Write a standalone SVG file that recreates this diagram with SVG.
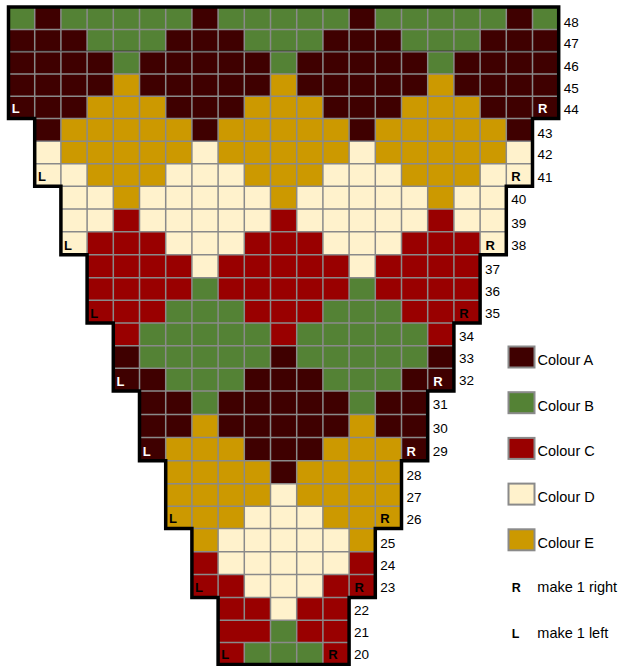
<svg xmlns="http://www.w3.org/2000/svg" width="623" height="666" viewBox="0 0 623 666">
<style>
.a{fill:#3f0000}.b{fill:#548235}.c{fill:#990000}.d{fill:#fff2cc}.e{fill:#cc9900}
.grid{fill:none;stroke:#8a8a8a;stroke-width:1.5}
.outline{fill:none;stroke:#000;stroke-width:3.5;stroke-linejoin:miter}
.num{font-family:"Liberation Sans",Arial,sans-serif;font-size:13.5px;fill:#000}
.lr{font-family:"Liberation Sans",Arial,sans-serif;font-size:13px;font-weight:bold;fill:#000}
.lrw{fill:#fff}
.leg{font-family:"Liberation Sans",Arial,sans-serif;font-size:14.5px;fill:#000}
.legk{font-family:"Liberation Sans",Arial,sans-serif;font-size:12.5px;font-weight:bold;fill:#000}
.sw{stroke:#8a8a8a;stroke-width:2}
</style>
<g id="chart">
<g id="row48"><rect class="b" x="8.5" y="7" width="550.2" height="22.4"/><rect class="a" x="34.7" y="7" width="26.2" height="22.4"/><rect class="a" x="191.9" y="7" width="26.2" height="22.4"/><rect class="a" x="349.1" y="7" width="26.2" height="22.4"/><rect class="a" x="506.3" y="7" width="26.2" height="22.4"/></g>
<g id="row47"><rect class="a" x="8.5" y="29.4" width="550.2" height="22.4"/><rect class="b" x="87.1" y="29.4" width="78.6" height="22.4"/><rect class="b" x="244.3" y="29.4" width="78.6" height="22.4"/><rect class="b" x="401.5" y="29.4" width="78.6" height="22.4"/></g>
<g id="row46"><rect class="a" x="8.5" y="51.8" width="550.2" height="22.2"/><rect class="b" x="113.3" y="51.8" width="26.2" height="22.2"/><rect class="b" x="270.5" y="51.8" width="26.2" height="22.2"/><rect class="b" x="427.7" y="51.8" width="26.2" height="22.2"/></g>
<g id="row45"><rect class="a" x="8.5" y="74" width="550.2" height="22.3"/><rect class="e" x="113.3" y="74" width="26.2" height="22.3"/><rect class="e" x="270.5" y="74" width="26.2" height="22.3"/><rect class="e" x="427.7" y="74" width="26.2" height="22.3"/></g>
<g id="row44"><rect class="a" x="8.5" y="96.3" width="550.2" height="22.3"/><rect class="e" x="87.1" y="96.3" width="78.6" height="22.3"/><rect class="e" x="244.3" y="96.3" width="78.6" height="22.3"/><rect class="e" x="401.5" y="96.3" width="78.6" height="22.3"/></g>
<g id="row43"><rect class="e" x="34.7" y="118.6" width="497.8" height="22.7"/><rect class="a" x="34.7" y="118.6" width="26.2" height="22.7"/><rect class="a" x="191.9" y="118.6" width="26.2" height="22.7"/><rect class="a" x="349.1" y="118.6" width="26.2" height="22.7"/><rect class="a" x="506.3" y="118.6" width="26.2" height="22.7"/></g>
<g id="row42"><rect class="e" x="34.7" y="141.3" width="497.8" height="22.4"/><rect class="d" x="34.7" y="141.3" width="26.2" height="22.4"/><rect class="d" x="191.9" y="141.3" width="26.2" height="22.4"/><rect class="d" x="349.1" y="141.3" width="26.2" height="22.4"/><rect class="d" x="506.3" y="141.3" width="26.2" height="22.4"/></g>
<g id="row41"><rect class="d" x="34.7" y="163.7" width="497.8" height="22.6"/><rect class="e" x="87.1" y="163.7" width="78.6" height="22.6"/><rect class="e" x="244.3" y="163.7" width="78.6" height="22.6"/><rect class="e" x="401.5" y="163.7" width="78.6" height="22.6"/></g>
<g id="row40"><rect class="d" x="60.9" y="186.3" width="445.4" height="22.7"/><rect class="e" x="113.3" y="186.3" width="26.2" height="22.7"/><rect class="e" x="270.5" y="186.3" width="26.2" height="22.7"/><rect class="e" x="427.7" y="186.3" width="26.2" height="22.7"/></g>
<g id="row39"><rect class="d" x="60.9" y="209" width="445.4" height="22.8"/><rect class="c" x="113.3" y="209" width="26.2" height="22.8"/><rect class="c" x="270.5" y="209" width="26.2" height="22.8"/><rect class="c" x="427.7" y="209" width="26.2" height="22.8"/></g>
<g id="row38"><rect class="c" x="60.9" y="231.8" width="445.4" height="23"/><rect class="d" x="60.9" y="231.8" width="26.2" height="23"/><rect class="d" x="165.7" y="231.8" width="78.6" height="23"/><rect class="d" x="322.9" y="231.8" width="78.6" height="23"/><rect class="d" x="480.1" y="231.8" width="26.2" height="23"/></g>
<g id="row37"><rect class="c" x="87.1" y="254.8" width="393" height="23"/><rect class="d" x="191.9" y="254.8" width="26.2" height="23"/><rect class="d" x="349.1" y="254.8" width="26.2" height="23"/></g>
<g id="row36"><rect class="c" x="87.1" y="277.8" width="393" height="22.5"/><rect class="b" x="191.9" y="277.8" width="26.2" height="22.5"/><rect class="b" x="349.1" y="277.8" width="26.2" height="22.5"/></g>
<g id="row35"><rect class="c" x="87.1" y="300.3" width="393" height="22.7"/><rect class="b" x="165.7" y="300.3" width="78.6" height="22.7"/><rect class="b" x="322.9" y="300.3" width="78.6" height="22.7"/></g>
<g id="row34"><rect class="b" x="113.3" y="323" width="340.6" height="22.8"/><rect class="c" x="113.3" y="323" width="26.2" height="22.8"/><rect class="c" x="270.5" y="323" width="26.2" height="22.8"/><rect class="c" x="427.7" y="323" width="26.2" height="22.8"/></g>
<g id="row33"><rect class="b" x="113.3" y="345.8" width="340.6" height="22.5"/><rect class="a" x="113.3" y="345.8" width="26.2" height="22.5"/><rect class="a" x="270.5" y="345.8" width="26.2" height="22.5"/><rect class="a" x="427.7" y="345.8" width="26.2" height="22.5"/></g>
<g id="row32"><rect class="a" x="113.3" y="368.3" width="340.6" height="22.7"/><rect class="b" x="165.7" y="368.3" width="78.6" height="22.7"/><rect class="b" x="322.9" y="368.3" width="78.6" height="22.7"/></g>
<g id="row31"><rect class="a" x="139.5" y="391" width="288.2" height="23.5"/><rect class="b" x="191.9" y="391" width="26.2" height="23.5"/><rect class="b" x="349.1" y="391" width="26.2" height="23.5"/></g>
<g id="row30"><rect class="a" x="139.5" y="414.5" width="288.2" height="23"/><rect class="e" x="191.9" y="414.5" width="26.2" height="23"/><rect class="e" x="349.1" y="414.5" width="26.2" height="23"/></g>
<g id="row29"><rect class="a" x="139.5" y="437.5" width="288.2" height="23.2"/><rect class="e" x="165.7" y="437.5" width="78.6" height="23.2"/><rect class="e" x="322.9" y="437.5" width="78.6" height="23.2"/></g>
<g id="row28"><rect class="e" x="165.7" y="460.7" width="235.8" height="23"/><rect class="a" x="270.5" y="460.7" width="26.2" height="23"/></g>
<g id="row27"><rect class="e" x="165.7" y="483.7" width="235.8" height="22.5"/><rect class="d" x="270.5" y="483.7" width="26.2" height="22.5"/></g>
<g id="row26"><rect class="e" x="165.7" y="506.2" width="235.8" height="22.3"/><rect class="d" x="244.3" y="506.2" width="78.6" height="22.3"/></g>
<g id="row25"><rect class="d" x="191.9" y="528.5" width="183.4" height="23.3"/><rect class="e" x="191.9" y="528.5" width="26.2" height="23.3"/><rect class="e" x="349.1" y="528.5" width="26.2" height="23.3"/></g>
<g id="row24"><rect class="d" x="191.9" y="551.8" width="183.4" height="22.8"/><rect class="c" x="191.9" y="551.8" width="26.2" height="22.8"/><rect class="c" x="349.1" y="551.8" width="26.2" height="22.8"/></g>
<g id="row23"><rect class="c" x="191.9" y="574.6" width="183.4" height="23"/><rect class="d" x="244.3" y="574.6" width="78.6" height="23"/></g>
<g id="row22"><rect class="c" x="218.1" y="597.6" width="131" height="22.6"/><rect class="d" x="270.5" y="597.6" width="26.2" height="22.6"/></g>
<g id="row21"><rect class="c" x="218.1" y="620.2" width="131" height="22.4"/><rect class="b" x="270.5" y="620.2" width="26.2" height="22.4"/></g>
<g id="row20"><rect class="c" x="218.1" y="642.6" width="131" height="22"/><rect class="b" x="244.3" y="642.6" width="78.6" height="22"/></g>
</g>
<g id="gridlines">
<path class="grid" d="M34.7 7V118.6M60.9 7V186.3M87.1 7V254.8M113.3 7V323M139.5 7V391M165.7 7V460.7M191.9 7V528.5M218.1 7V597.6M244.3 7V620.2M244.3 642.6V664.6M270.5 7V664.6M296.7 7V664.6M322.9 7V664.6M349.1 7V597.6M375.3 7V528.5M401.5 7V460.7M427.7 7V391M453.9 7V323M480.1 7V254.8M506.3 7V186.3M532.5 7V118.6"/>
<path class="grid" d="M8.5 29.4H558.7M8.5 51.8H558.7M8.5 74H558.7M8.5 96.3H558.7M34.7 118.6H532.5M34.7 141.3H532.5M34.7 163.7H532.5M60.9 186.3H506.3M60.9 209H506.3M60.9 231.8H506.3M87.1 254.8H480.1M87.1 277.8H480.1M87.1 300.3H480.1M113.3 323H453.9M113.3 345.8H453.9M113.3 368.3H453.9M139.5 391H427.7M139.5 414.5H427.7M139.5 437.5H427.7M165.7 460.7H401.5M165.7 483.7H401.5M165.7 506.2H401.5M191.9 528.5H375.3M191.9 551.8H375.3M191.9 574.6H375.3M218.1 597.6H349.1M218.1 620.2H349.1M218.1 642.6H349.1"/>
<path d="M8.5 51H558.7" stroke="#2a2a2a" stroke-width="0.7" fill="none"/>
</g>
<g id="outline">
<path class="outline" d="M8.5 7H558.7V118.6H532.5V186.3H506.3V254.8H480.1V323H453.9V391H427.7V460.7H401.5V528.5H375.3V597.6H349.1V664.6H218.1V597.6H191.9V528.5H165.7V460.7H139.5V391H113.3V323H87.1V254.8H60.9V186.3H34.7V118.6H8.5Z"/>
</g>
<g id="increase-marks">
<text class="lr lrw" x="11.7" y="113.4">L</text><text class="lr lrw" x="538" y="113.4">R</text>
<text class="lr" x="37.9" y="181">L</text><text class="lr" x="511.3" y="181">R</text>
<text class="lr" x="64.1" y="249.6">L</text><text class="lr" x="485.4" y="249.6">R</text>
<text class="lr" x="90.3" y="317.8">L</text><text class="lr" x="459.3" y="317.8">R</text>
<text class="lr lrw" x="116.5" y="385.8">L</text><text class="lr lrw" x="433.2" y="385.8">R</text>
<text class="lr lrw" x="142.7" y="455.5">L</text><text class="lr lrw" x="406.5" y="455.5">R</text>
<text class="lr" x="168.9" y="523.3">L</text><text class="lr" x="380.3" y="523.3">R</text>
<text class="lr" x="195.1" y="592.4">L</text><text class="lr" x="354.4" y="592.4">R</text>
<text class="lr" x="221.3" y="659.4">L</text><text class="lr" x="328.2" y="659.4">R</text>
</g>
<g id="row-numbers">
<text class="num" x="563.7" y="26.5">48</text>
<text class="num" x="563.7" y="48.3">47</text>
<text class="num" x="563.7" y="70.5">46</text>
<text class="num" x="563.7" y="92.5">45</text>
<text class="num" x="563.7" y="113.5">44</text>
<text class="num" x="537.5" y="137.5">43</text>
<text class="num" x="537.5" y="159.3">42</text>
<text class="num" x="537.5" y="181.7">41</text>
<text class="num" x="511.3" y="204.3">40</text>
<text class="num" x="511.3" y="227.5">39</text>
<text class="num" x="511.3" y="250">38</text>
<text class="num" x="485.1" y="273.5">37</text>
<text class="num" x="485.1" y="295.8">36</text>
<text class="num" x="485.1" y="317.7">35</text>
<text class="num" x="458.9" y="341">34</text>
<text class="num" x="458.9" y="363.3">33</text>
<text class="num" x="458.9" y="385.2">32</text>
<text class="num" x="432.7" y="409.3">31</text>
<text class="num" x="432.7" y="432.5">30</text>
<text class="num" x="432.7" y="455.6">29</text>
<text class="num" x="406.5" y="479.8">28</text>
<text class="num" x="406.5" y="501.7">27</text>
<text class="num" x="406.5" y="523.5">26</text>
<text class="num" x="380.3" y="547.5">25</text>
<text class="num" x="380.3" y="570">24</text>
<text class="num" x="380.3" y="591.7">23</text>
<text class="num" x="354.1" y="615">22</text>
<text class="num" x="354.1" y="637.3">21</text>
<text class="num" x="354.1" y="659.3">20</text>
</g>
<g id="legend">
<g id="legend-a"><rect class="a sw" x="508.5" y="346.5" width="26" height="21"/><text class="leg" x="537.5" y="365">Colour A</text></g>
<g id="legend-b"><rect class="b sw" x="508.5" y="392.2" width="26" height="21"/><text class="leg" x="537.5" y="410.7">Colour B</text></g>
<g id="legend-c"><rect class="c sw" x="508.5" y="437.9" width="26" height="21"/><text class="leg" x="537.5" y="456.4">Colour C</text></g>
<g id="legend-d"><rect class="d sw" x="508.5" y="483.6" width="26" height="21"/><text class="leg" x="537.5" y="502.1">Colour D</text></g>
<g id="legend-e"><rect class="e sw" x="508.5" y="529.3" width="26" height="21"/><text class="leg" x="537.5" y="547.8">Colour E</text></g>
<g id="legend-r"><text class="legk" x="511.7" y="591.7">R</text><text class="leg" x="537.3" y="591.7">make 1 right</text></g>
<g id="legend-l"><text class="legk" x="511.7" y="638.3">L</text><text class="leg" x="537.3" y="638.3">make 1 left</text></g>
</g>
</svg>
